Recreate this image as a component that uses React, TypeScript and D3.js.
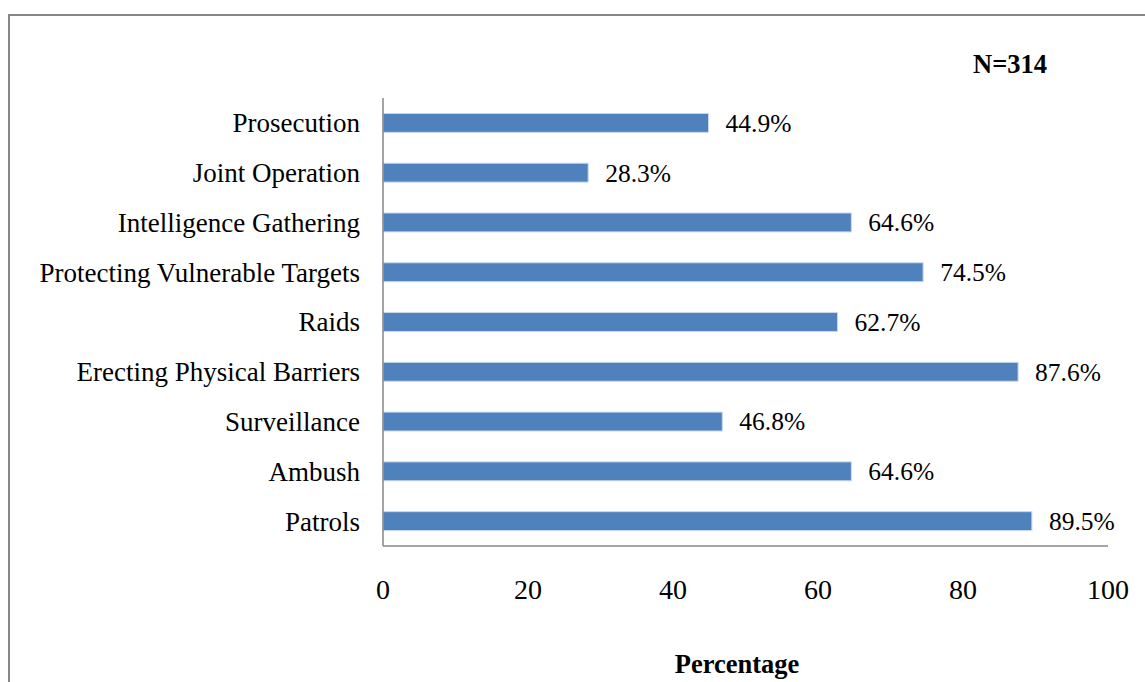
import { useEffect, useRef } from "react";
import * as d3 from "d3";

const categories = [
  "Prosecution",
  "Joint Operation",
  "Intelligence Gathering",
  "Protecting Vulnerable Targets",
  "Raids",
  "Erecting Physical Barriers",
  "Surveillance",
  "Ambush",
  "Patrols",
];
const values = [44.9, 28.3, 64.6, 74.5, 62.7, 87.6, 46.8, 64.6, 89.5];
const xTicks = [0, 20, 40, 60, 80, 100];
const sampleLabel = "N=314";
const xTitle = "Percentage";

const App = () => {
  const svgRef = useRef<SVGSVGElement>(null);

  useEffect(() => {
    const w = 1145;
    const h = 682;
    const svg = d3.select(svgRef.current).attr("width", w).attr("height", h);
    svg.selectAll("*").remove();

    const font = "'Liberation Serif', 'Times New Roman', serif";

    // outer frame (runs off the right and bottom edge)
    svg.append("rect")
      .attr("x", 9)
      .attr("y", 15)
      .attr("width", w + 20)
      .attr("height", h + 20)
      .attr("fill", "none")
      .attr("stroke", "#878787")
      .attr("stroke-width", 2);

    const left = 383;
    const right = 1108;
    const top = 98;
    const bottom = 546;

    const xScale = d3.scaleLinear().domain([0, 100]).range([left, right]);
    const yScale = d3.scaleBand<string>()
      .domain(categories)
      .range([top, bottom])
      .paddingInner(0.62)
      .paddingOuter(0.31);

    // bars
    svg.selectAll(".bar")
      .data(values)
      .join("rect")
      .attr("class", "bar")
      .attr("x", xScale(0))
      .attr("y", (d, i) => yScale(categories[i])!)
      .attr("width", (d) => xScale(d) - xScale(0))
      .attr("height", yScale.bandwidth())
      .attr("fill", "#4F81BD")
      .attr("stroke", "#c9d9ee")
      .attr("stroke-width", 1);

    // value labels
    svg.selectAll(".val")
      .data(values)
      .join("text")
      .attr("class", "val")
      .attr("x", (d) => xScale(d) + 17)
      .attr("y", (d, i) => yScale(categories[i])! + yScale.bandwidth() / 2)
      .attr("dy", "0.35em")
      .attr("font-family", font)
      .attr("font-size", 25.5)
      .attr("fill", "#000")
      .text((d) => d.toFixed(1) + "%");

    // category labels
    svg.selectAll(".cat")
      .data(categories)
      .join("text")
      .attr("class", "cat")
      .attr("x", left - 23)
      .attr("y", (d) => yScale(d)! + yScale.bandwidth() / 2)
      .attr("dy", "0.35em")
      .attr("text-anchor", "end")
      .attr("font-family", font)
      .attr("font-size", 27)
      .attr("fill", "#000")
      .text((d) => d);

    // axis lines
    svg.append("line")
      .attr("x1", left).attr("x2", left)
      .attr("y1", top).attr("y2", bottom)
      .attr("stroke", "#878787")
      .attr("stroke-width", 1.5);
    svg.append("line")
      .attr("x1", left).attr("x2", right)
      .attr("y1", bottom).attr("y2", bottom)
      .attr("stroke", "#878787")
      .attr("stroke-width", 1.5);

    // x tick labels
    svg.selectAll(".tick")
      .data(xTicks)
      .join("text")
      .attr("class", "tick")
      .attr("x", (d) => xScale(d))
      .attr("y", 599)
      .attr("text-anchor", "middle")
      .attr("font-family", font)
      .attr("font-size", 28)
      .attr("fill", "#000")
      .text((d) => d);

    svg.append("text")
      .attr("x", 737)
      .attr("y", 673)
      .attr("text-anchor", "middle")
      .attr("font-family", font)
      .attr("font-size", 26.5)
      .attr("font-weight", "bold")
      .text(xTitle);

    svg.append("text")
      .attr("x", 1010)
      .attr("y", 73)
      .attr("text-anchor", "middle")
      .attr("font-family", font)
      .attr("font-size", 26.5)
      .attr("font-weight", "bold")
      .text(sampleLabel);
  }, []);

  return (
    <svg
      ref={svgRef}
      style={{ position: "absolute", left: 0, top: 0, display: "block", background: "#fff" }}
    ></svg>
  );
};

export default App;
